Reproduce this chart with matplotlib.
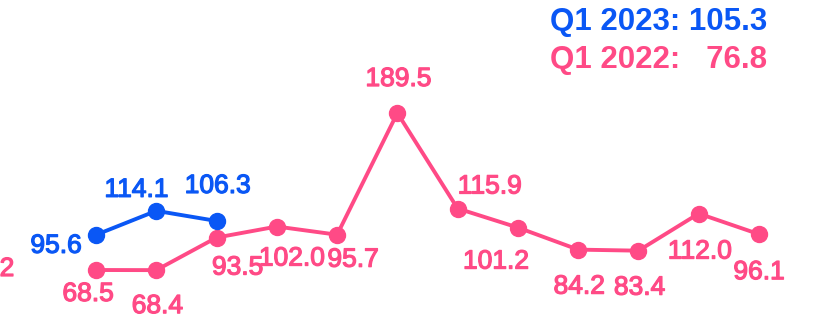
import matplotlib
matplotlib.use("Agg")
import matplotlib.pyplot as plt
import matplotlib.patheffects as pe

# data
months_2022 = list(range(12))
vals_2022 = [68.5, 68.4, 93.5, 102.0, 95.7, 189.5, 115.9, 101.2, 84.2, 83.4, 112.0, 96.1]
months_2023 = [0, 1, 2]
vals_2023 = [95.6, 114.1, 106.3]
q1_2023 = 105.3
q1_2022 = 76.8

PINK = "#FF4A86"
BLUE = "#0A57F5"

# label offsets (pixels), hand-placed to avoid overlaps
off_2022 = [(-8, -24), (1, -36), (21, -30), (15, -32), (16, -25), (1, 34),
            (32, 22), (-22, -34), (1, -37), (1, -37), (1, -38), (0, -38)]
off_2023 = [(-40, -11), (-20, 21), (1, 35)]

plt.rcParams["font.family"] = ["Liberation Sans", "DejaVu Sans"]
fig = plt.figure(figsize=(8.15, 3.16), dpi=100)
ax = fig.add_axes([0, 0, 1, 1])
ax.axis("off")
ax.set_xlim(-1.593, 11.929)
ax.set_ylim(33.05, 276.6)

ax.plot(months_2022, vals_2022, color=PINK, lw=2.8, marker="o", ms=11.5, zorder=2)
ax.plot(months_2023, vals_2023, color=BLUE, lw=2.8, marker="o", ms=11.5, zorder=3)


def thick(c):
    return [pe.withStroke(linewidth=0.9, foreground=c)]


for x, v, (dx, dy) in zip(months_2022, vals_2022, off_2022):
    ax.annotate(f"{v:.1f}", (x, v), xytext=(dx, dy), textcoords="offset pixels",
                ha="center", va="center", fontsize=19, color=PINK, path_effects=thick(PINK))
for x, v, (dx, dy) in zip(months_2023, vals_2023, off_2023):
    ax.annotate(f"{v:.1f}", (x, v), xytext=(dx, dy), textcoords="offset pixels",
                ha="center", va="center", fontsize=19, color=BLUE, path_effects=thick(BLUE))

# clipped label at the left edge
ax.text(7 / 815, 1 - 269 / 316, "2", transform=ax.transAxes, ha="center", va="center",
        fontsize=19, color=PINK, path_effects=thick(PINK))

ax.text(767 / 815, 1 - 22 / 316, f"Q1 2023: {q1_2023:.1f}", transform=ax.transAxes,
        ha="right", va="center", fontsize=22.5, fontweight="bold", color=BLUE)
ax.text(767 / 815, 1 - 60 / 316, f"Q1 2022:   {q1_2022:.1f}", transform=ax.transAxes,
        ha="right", va="center", fontsize=22.5, fontweight="bold", color=PINK)

fig.savefig("out.png", dpi=100)
